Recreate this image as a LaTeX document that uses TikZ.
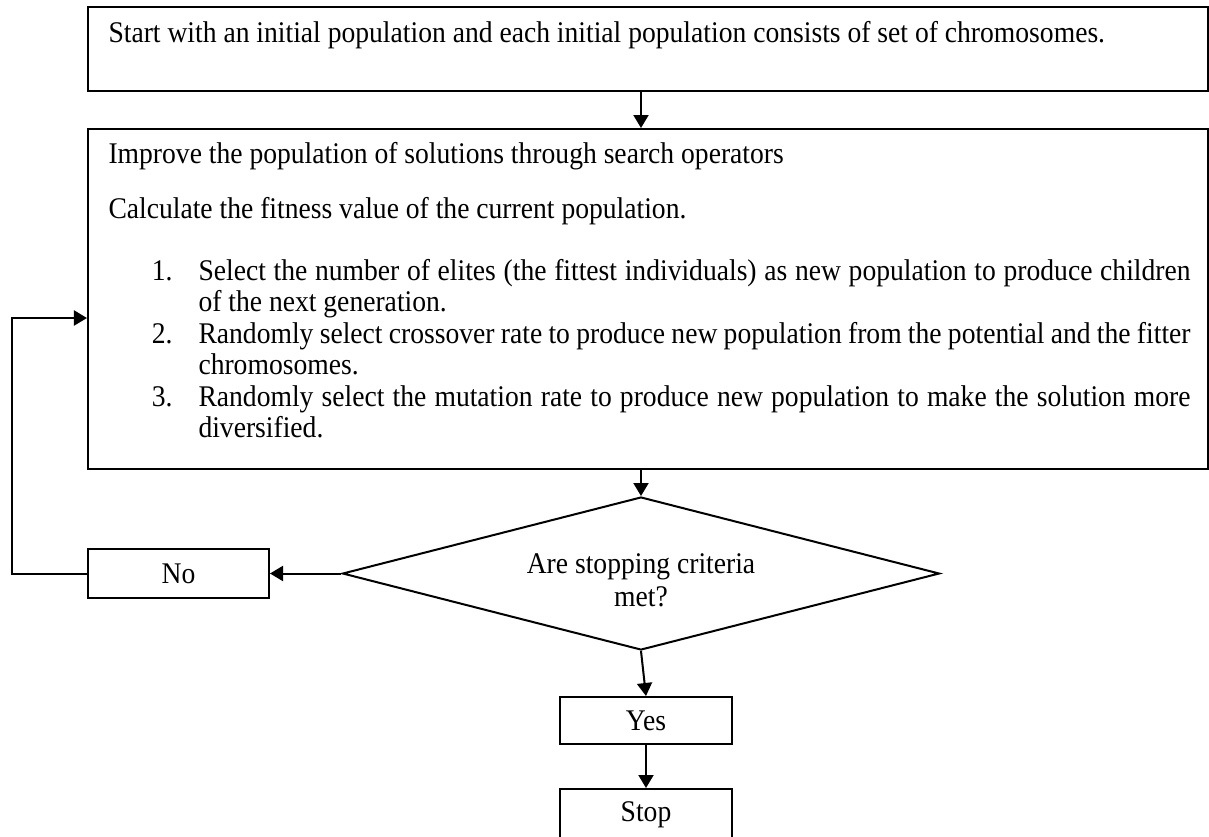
\documentclass[tikz,border=0pt]{standalone}
\usepackage{fontspec}
\setmainfont[FakeStretch=0.92]{Liberation Serif}
\usepackage{enumitem}
\usetikzlibrary{arrows.meta,shapes.geometric}

\begin{document}
\begin{tikzpicture}[x=0.4pt,y=-0.4pt,
  box/.style={draw, line width=0.8pt, rectangle, inner sep=0pt},
  txt/.style={inner sep=0pt, font=\fontsize{12}{12.6}\selectfont},
  arr/.style={line width=0.8pt, -{Triangle[length=5.2pt,width=6pt]}}]
\useasboundingbox (0,0) rectangle (1209,836);

% boxes
\node[box, minimum width=448pt, minimum height=33.6pt] (start) at (648,49) {};
\node[txt, anchor=base west] (starttxt) at (108,42.5) {Start with an initial population and each initial population consists of set of chromosomes.};

\node[box, minimum width=448pt, minimum height=136pt] (improve) at (648,299) {};
\node[txt, anchor=base west, text width=432.8pt, align=justify] (improvetxt) at (108,163) {%
Improve the population of solutions through search operators\par
\vspace{9.4pt}
Calculate the fitness value of the current population.
\begin{enumerate}[leftmargin=36pt,labelwidth=10pt,labelsep=10.4pt,topsep=12.2pt,partopsep=0pt,itemsep=0pt,parsep=0pt]
\item Select the number of elites (the fittest individuals) as new population to produce children\linebreak of the next generation.
\item Randomly select crossover rate to produce new population from the potential and the fitter\linebreak chromosomes.
\item Randomly select the mutation rate to produce new population to make the solution more\linebreak diversified.
\end{enumerate}};

\node[draw, diamond, line width=0.8pt, inner sep=0pt, shape aspect=3.9,
  minimum width=238.8pt, minimum height=61.2pt] (crit) at (641,573.5) {};
\node[txt, align=center, font=\fontsize{12}{13.2}\selectfont] (crittxt) at (641,580) {Are stopping criteria\\met?};

\node[box, txt, minimum width=72.4pt, minimum height=19.6pt] (no) at (178.5,573.5) {No};
\node[box, txt, minimum width=68.8pt, minimum height=18.8pt] (yes) at (646,720.5) {Yes};
\node[box, txt, minimum width=68.8pt, minimum height=20.8pt] (stop) at (646,815) {Stop};

\coordinate (loop) at (12,318);

% arrows
\path[draw,arr] (start.south -| crit.north) -- (improve.north -| crit.north);
\path[draw,arr] (improve.south -| crit.north) -- (crit.north);
\path[draw,arr] (crit.west) -- (no.east);
\path[draw,arr] (crit.south) -- (yes.north);
\path[draw,arr] (yes.south) -- (stop.north);
\path[draw,arr] (no.west) -| (loop) -- (loop -| improve.west);
\end{tikzpicture}
\end{document}
